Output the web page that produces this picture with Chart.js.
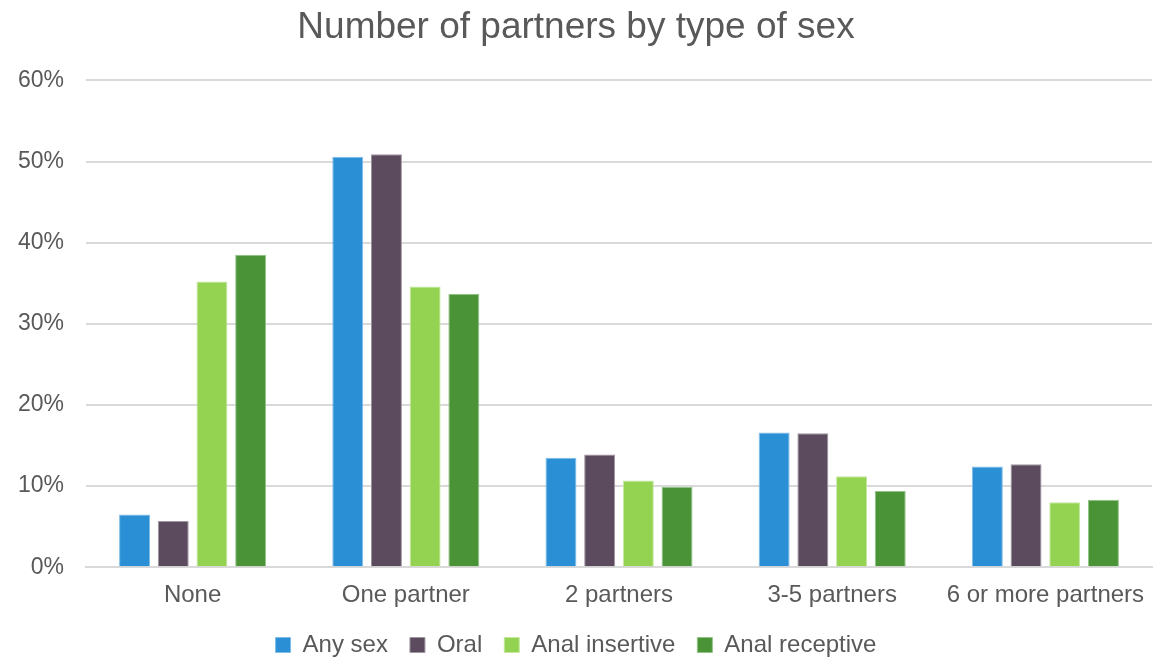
<!DOCTYPE html>
<html>
<head>
<meta charset="utf-8">
<script src="https://cdn.jsdelivr.net/npm/chart.js@4"></script>
<style>
  html, body { margin: 0; padding: 0; background: #fff; }
  #wrap { width: 1170px; height: 659px; }
</style>
</head>
<body>
<div id="wrap"><canvas id="partnersChart" width="1170" height="659"></canvas></div>
<script>
// Categories and values (percent)
const categories = ['None', 'One partner', '2 partners', '3-5 partners', '6 or more partners'];
const anySex = [6.5, 50.6, 13.5, 16.6, 12.4];
const oral = [5.7, 50.9, 13.9, 16.5, 12.7];
const analInsertive = [35.2, 34.6, 10.7, 11.2, 8.0];
const analReceptive = [38.5, 33.7, 9.9, 9.4, 8.3];
const yTicks = [0, 10, 20, 30, 40, 50, 60];

Chart.defaults.font.family = '"Liberation Sans", Arial, sans-serif';
Chart.defaults.color = '#595959';

const ctx = document.getElementById('partnersChart').getContext('2d');

new Chart(ctx, {
    type: 'bar',
    data: {
        labels: categories,
        datasets: [
            { label: 'Any sex', data: anySex, backgroundColor: '#2a8fd4', borderColor: '#7fbde8' },
            { label: 'Oral', data: oral, backgroundColor: '#5c4b5e', borderColor: '#a096a2' },
            { label: 'Anal insertive', data: analInsertive, backgroundColor: '#94d351', borderColor: '#c5e9a0' },
            { label: 'Anal receptive', data: analReceptive, backgroundColor: '#4a9336', borderColor: '#93c487' }
        ].map(ds => Object.assign(ds, {
            borderWidth: 1,
            barPercentage: 0.8,
            categoryPercentage: 0.726
        }))
    },
    options: {
        responsive: false,
        animation: false,
        // small negative bottom padding lets the legend sit lower while keeping its item spacing
        layout: { padding: { left: 0, right: 18, top: 0, bottom: -8 } },
        scales: {
            x: {
                grid: { display: false },
                border: { color: '#d9d9d9', width: 2 },
                ticks: { font: { size: 24 }, color: '#595959', padding: 6 },
                afterFit: axis => { axis.height = axis.height - 5; }
            },
            y: {
                min: 0,
                max: 60,
                afterBuildTicks: axis => { axis.ticks = yTicks.map(v => ({ value: v })); },
                afterFit: axis => { axis.width = 86; },
                grid: { color: '#d9d9d9', lineWidth: 2, drawTicks: false },
                border: { display: false },
                ticks: {
                    font: { size: 23 },
                    color: '#595959',
                    padding: 22,
                    callback: v => v + '%'
                }
            }
        },
        plugins: {
            title: {
                display: true,
                text: 'Number of partners by type of sex',
                font: { size: 37, weight: 'normal' },
                color: '#595959',
                padding: { top: 6, bottom: 30 }
            },
            legend: {
                position: 'bottom',
                labels: {
                    font: { size: 24 },
                    color: '#595959',
                    boxWidth: 15,
                    boxHeight: 15,
                    padding: 22,
                    useBorderRadius: false
                }
            },
            tooltip: { enabled: false }
        }
    }
});
</script>
</body>
</html>
